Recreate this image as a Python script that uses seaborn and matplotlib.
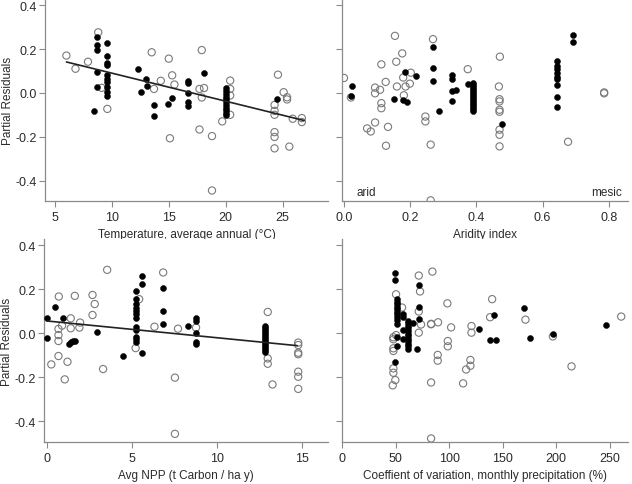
import matplotlib
matplotlib.use("Agg")
import matplotlib.pyplot as plt
import seaborn as sns

## data
# temperature panel
temp_fill_x = [8.4, 8.7, 8.7, 8.7, 8.7, 8.7,
               9.6, 9.6, 9.6, 9.6, 9.6, 9.6, 9.6, 9.6, 9.6, 9.6,
               12.3, 13.0, 13.1, 12.6, 13.7, 13.7, 14.9, 15.3,
               16.7, 16.7, 16.7, 16.7, 16.7, 18.1,
               20.0, 20.0, 20.0, 20.0, 20.0, 20.0, 20.0, 20.0, 20.0, 20.0, 20.0,
               24.5]
temp_fill_y = [-0.083, 0.256, 0.22, 0.195, 0.095, 0.029,
               0.226, 0.17, 0.135, 0.127, 0.082, 0.064, 0.048, 0.027, 0.003, -0.012,
               0.108, 0.065, 0.032, 0.005, -0.054, -0.106, -0.05, -0.023,
               0.056, 0.046, -0.002, -0.04, -0.059, 0.09,
               0.02, 0.008, -0.005, -0.018, -0.03, -0.042, -0.055, -0.068, -0.08, -0.092, -0.1,
               -0.03]
temp_open_x = [6.0, 6.8, 7.9, 8.8, 9.1, 9.6, 13.5, 13.7, 14.3, 15.0, 15.1, 15.3, 15.5,
               17.7, 17.7, 17.9, 17.9, 18.1, 18.8, 18.8, 19.7,
               20.4, 20.4, 20.4, 20.4,
               24.3, 24.3, 24.3, 24.3, 24.3, 24.3, 24.6,
               25.1, 25.4, 25.4, 25.6, 25.9, 26.7, 26.7]
temp_open_y = [0.17, 0.11, 0.142, 0.276, 0.023, -0.073, 0.185, 0.018, 0.055, 0.156, -0.207, 0.08, 0.038,
               -0.167, 0.018, 0.195, -0.021, 0.022, -0.197, -0.445, -0.13,
               0.056, 0.018, -0.012, -0.1,
               -0.055, -0.082, -0.1, -0.179, -0.201, -0.253, 0.083,
               0.003, -0.02, -0.03, -0.245, -0.118, -0.115, -0.133]
temp_fit_x = [6.0, 26.9]
temp_fit_y = [0.141, -0.126]

# aridity panel
arid_fill_x = [0.024, 0.021, 0.15, 0.184, 0.218, 0.179, 0.191,
               0.269, 0.269, 0.269, 0.286, 0.325, 0.325, 0.325, 0.339, 0.325, 0.376,
               0.389, 0.389, 0.389, 0.389, 0.389, 0.389, 0.389, 0.389,
               0.389, 0.389, 0.389, 0.389, 0.389, 0.389, 0.389,
               0.477,
               0.644, 0.644, 0.644, 0.644, 0.644, 0.644, 0.644, 0.644, 0.644,
               0.692, 0.692]
arid_fill_y = [0.03, -0.014, -0.029, 0.095, 0.076, -0.032, -0.041,
               0.21, 0.112, 0.055, -0.082, 0.08, 0.065, 0.008, 0.014, -0.035, 0.041,
               0.044, 0.035, 0.026, 0.017, 0.008, -0.001, -0.01, -0.019,
               -0.028, -0.037, -0.046, -0.055, -0.064, -0.073, -0.082,
               -0.142,
               0.147, 0.124, 0.107, 0.089, 0.074, 0.062, 0.036, -0.02, -0.065,
               0.264, 0.23]
arid_open_x = [0.0, 0.021, 0.07, 0.081, 0.094, 0.094, 0.094, 0.109, 0.113, 0.113, 0.113,
               0.126, 0.127, 0.133, 0.154, 0.158, 0.16, 0.176, 0.179, 0.181, 0.186,
               0.199, 0.202, 0.246, 0.246, 0.262, 0.262, 0.269, 0.374,
               0.471, 0.468, 0.47, 0.47, 0.47, 0.47, 0.47, 0.47, 0.47,
               0.677, 0.786, 0.786]
arid_open_y = [0.068, -0.021, -0.162, -0.176, 0.024, -0.002, -0.135, 0.014, 0.13, -0.047, -0.07,
               0.05, -0.241, -0.155, 0.26, 0.142, 0.029, 0.18, 0.07, -0.011, 0.029,
               0.042, 0.092, -0.108, -0.13, -0.236, -0.49, 0.245, 0.108,
               0.165, 0.029, -0.029, -0.039, -0.077, -0.086, -0.168, -0.191, -0.244,
               -0.223, -0.002, 0.002]

# NPP panel
npp_fill_x = [0.0, 0.0, 0.49, 0.94, 1.27, 1.39, 1.51, 1.65, 2.92, 4.47,
              5.2, 5.2, 5.2, 5.2, 5.2, 5.2, 5.2, 5.2, 5.2, 5.2, 5.2, 5.2,
              5.59, 5.59, 5.59, 6.82, 6.82, 6.82, 8.29,
              8.76, 8.76, 8.76, 8.76, 8.76,
              12.82, 12.82, 12.82, 12.82, 12.82, 12.82, 12.82,
              12.82, 12.82, 12.82, 12.82, 12.82, 12.82, 12.82]
npp_fill_y = [0.068, -0.02, 0.121, 0.071, -0.05, -0.038, -0.036, -0.036, 0.008, -0.105,
              0.19, 0.155, 0.132, 0.114, 0.101, 0.089, 0.071, 0.03, 0.015, -0.015, -0.027, -0.038,
              0.258, 0.224, -0.091, 0.205, 0.103, 0.042, 0.033,
              0.068, 0.056, 0.0, -0.038, -0.05,
              0.035, 0.026, 0.017, 0.007, -0.002, -0.011, -0.02,
              -0.03, -0.039, -0.048, -0.058, -0.067, -0.077, -0.086]
npp_open_x = [0.25, 0.69, 0.67, 0.67, 0.67, 0.67, 0.88, 1.04, 1.2, 1.39, 1.39, 1.63,
              1.9, 1.94, 2.67, 2.67, 2.8, 3.29, 3.53, 5.2, 5.41, 6.31, 6.82,
              7.51, 7.51, 7.69, 8.75, 12.96, 12.96, 12.96, 13.24,
              14.75, 14.75, 14.75, 14.75, 14.75, 14.75, 14.75]
npp_open_y = [-0.141, 0.167, 0.02, -0.008, -0.035, -0.103, 0.035, -0.209, -0.129, 0.068, 0.023, 0.17,
              0.026, 0.049, 0.174, 0.083, 0.133, -0.162, 0.288, -0.067, 0.155, 0.03, 0.276,
              -0.201, -0.456, 0.021, 0.026, 0.097, -0.114, -0.138, -0.232,
              -0.042, -0.053, -0.088, -0.095, -0.174, -0.197, -0.252]
npp_fit_x = [0.0, 14.7]
npp_fit_y = [0.056, -0.056]

# coefficient of variation panel
cv_fill_x = [49.8, 49.8,
             51.7, 51.7, 51.7, 51.7, 51.7, 51.7, 51.7, 51.7, 51.7, 51.7,
             51.7, 51.7, 49.2, 56.7, 56.7, 57.3, 56.7,
             62.0, 62.0, 62.0, 62.0, 62.0, 62.0, 62.0, 62.0, 62.0, 62.0, 62.0, 62.0,
             66.0, 69.8, 71.7, 71.7, 71.7,
             127.8, 138.3, 143.6, 142.0, 169.5, 175.4, 196.9, 246.1]
cv_fill_y = [0.273, 0.24,
             0.155, 0.144, 0.132, 0.12, 0.109, 0.099, 0.086, 0.074, 0.06, 0.041,
             -0.017, -0.056, -0.132, 0.086, 0.076, 0.015, -0.026,
             0.056, 0.045, 0.033, 0.022, 0.01, -0.001, -0.013, -0.024, -0.036, -0.047, -0.059, -0.071,
             0.045, -0.071, 0.22, 0.121, 0.064,
             0.021, -0.03, -0.032, 0.085, 0.115, -0.02, -0.005, 0.038]
cv_open_x = [48.0, 48.0, 48.0, 48.0, 48.0, 48.0, 49.8, 47.4, 50.5, 56.1, 50.5,
             71.7, 72.9, 71.7, 71.7, 73.8, 84.4, 83.2, 83.2, 83.2, 83.2,
             89.7, 89.4, 89.4, 98.4, 98.8, 98.8, 101.9,
             113.1, 115.9, 119.9, 119.9, 120.9, 120.9, 138.3, 140.2, 171.3, 196.9, 214.3, 260.7]
cv_open_y = [-0.018, -0.027, -0.068, -0.08, -0.159, -0.179, -0.212, -0.236, 0.177, 0.117, -0.008,
             0.262, 0.19, 0.099, 0.003, 0.04, 0.28, 0.041, 0.043, -0.223, -0.477,
             0.05, -0.098, -0.124, 0.136, -0.035, -0.059, 0.027,
             -0.227, -0.164, -0.147, -0.121, 0.033, 0.003, 0.073, 0.155, 0.062, -0.014, -0.15, 0.076]

sns.set_style("ticks")
plt.rcParams['font.family'] = ['Liberation Sans', 'DejaVu Sans']

grey = '#8a8a8a'
ink = '#2b2b2b'
ylim = (-0.493, 0.428)
yticks = [-0.4, -0.2, 0.0, 0.2, 0.4]


def panel(ax, fx, fy, ox, oy, xlim, xticks, xticklabels, xlabel, left):
    sns.scatterplot(x=ox, y=oy, ax=ax, s=27, marker='o', facecolor='none',
                    edgecolor='#7a7a7a', linewidth=0.8, zorder=2)
    sns.scatterplot(x=fx, y=fy, ax=ax, s=19, marker='o', color='black',
                    edgecolor='black', linewidth=0.3, zorder=3)
    ax.set_xlim(xlim)
    ax.set_ylim(ylim)
    ax.set_xticks(xticks)
    ax.set_xticklabels(xticklabels)
    ax.set_yticks(yticks)
    if left:
        ax.set_yticklabels(['-0.4', '-0.2', '0.0', '0.2', '0.4'])
        ax.set_ylabel('Partial Residuals', fontsize=8.5, color=ink, labelpad=1)
    else:
        ax.set_yticklabels([])
        ax.set_ylabel('')
    ax.set_xlabel(xlabel, fontsize=8.5, color=ink, labelpad=3)
    ax.tick_params(colors=grey, labelcolor=ink, labelsize=9, length=4, width=0.8)
    ax.tick_params(axis='y', pad=2)
    for side in ['left', 'bottom']:
        ax.spines[side].set_color(grey)
        ax.spines[side].set_linewidth(0.9)
    sns.despine(ax=ax)
    ax.set_facecolor('white')


fig = plt.figure(figsize=(6.32, 4.85), dpi=100)
ax1 = fig.add_axes([0.0712, 0.5835, 0.4478, 0.4165])
ax2 = fig.add_axes([0.5411, 0.5835, 0.4525, 0.4165])
ax3 = fig.add_axes([0.0696, 0.0866, 0.4494, 0.4186])
ax4 = fig.add_axes([0.5411, 0.0866, 0.4525, 0.4186])

panel(ax1, temp_fill_x, temp_fill_y, temp_open_x, temp_open_y, (4.12, 29.0),
      [5, 10, 15, 20, 25], ['5', '10', '15', '20', '25'],
      'Temperature, average annual (\u00b0C)', True)
sns.lineplot(x=temp_fit_x, y=temp_fit_y, ax=ax1, color='#222222', linewidth=1.2, zorder=4)

panel(ax2, arid_fill_x, arid_fill_y, arid_open_x, arid_open_y, (-0.006, 0.858),
      [0.0, 0.2, 0.4, 0.6, 0.8], ['0.0', '0.2', '0.4', '0.6', '0.8'],
      'Aridity index', False)
ax2.text(0.039, -0.45, 'arid', fontsize=8.5, color=ink, ha='left', va='center')
ax2.text(0.84, -0.45, 'mesic', fontsize=8.5, color=ink, ha='right', va='center')

panel(ax3, npp_fill_x, npp_fill_y, npp_open_x, npp_open_y, (-0.18, 16.5),
      [0, 5, 10, 15], ['0', '5', '10', '15'],
      'Avg NPP (t Carbon / ha y)', True)
sns.lineplot(x=npp_fit_x, y=npp_fit_y, ax=ax3, color='#222222', linewidth=1.2, zorder=4)

panel(ax4, cv_fill_x, cv_fill_y, cv_open_x, cv_open_y, (0, 267),
      [0, 50, 100, 150, 200, 250], ['0', '50', '100', '150', '200', '250'],
      'Coeffient of variation, monthly precipitation (%)', False)

fig.savefig('out.png', dpi=100, facecolor='white')
